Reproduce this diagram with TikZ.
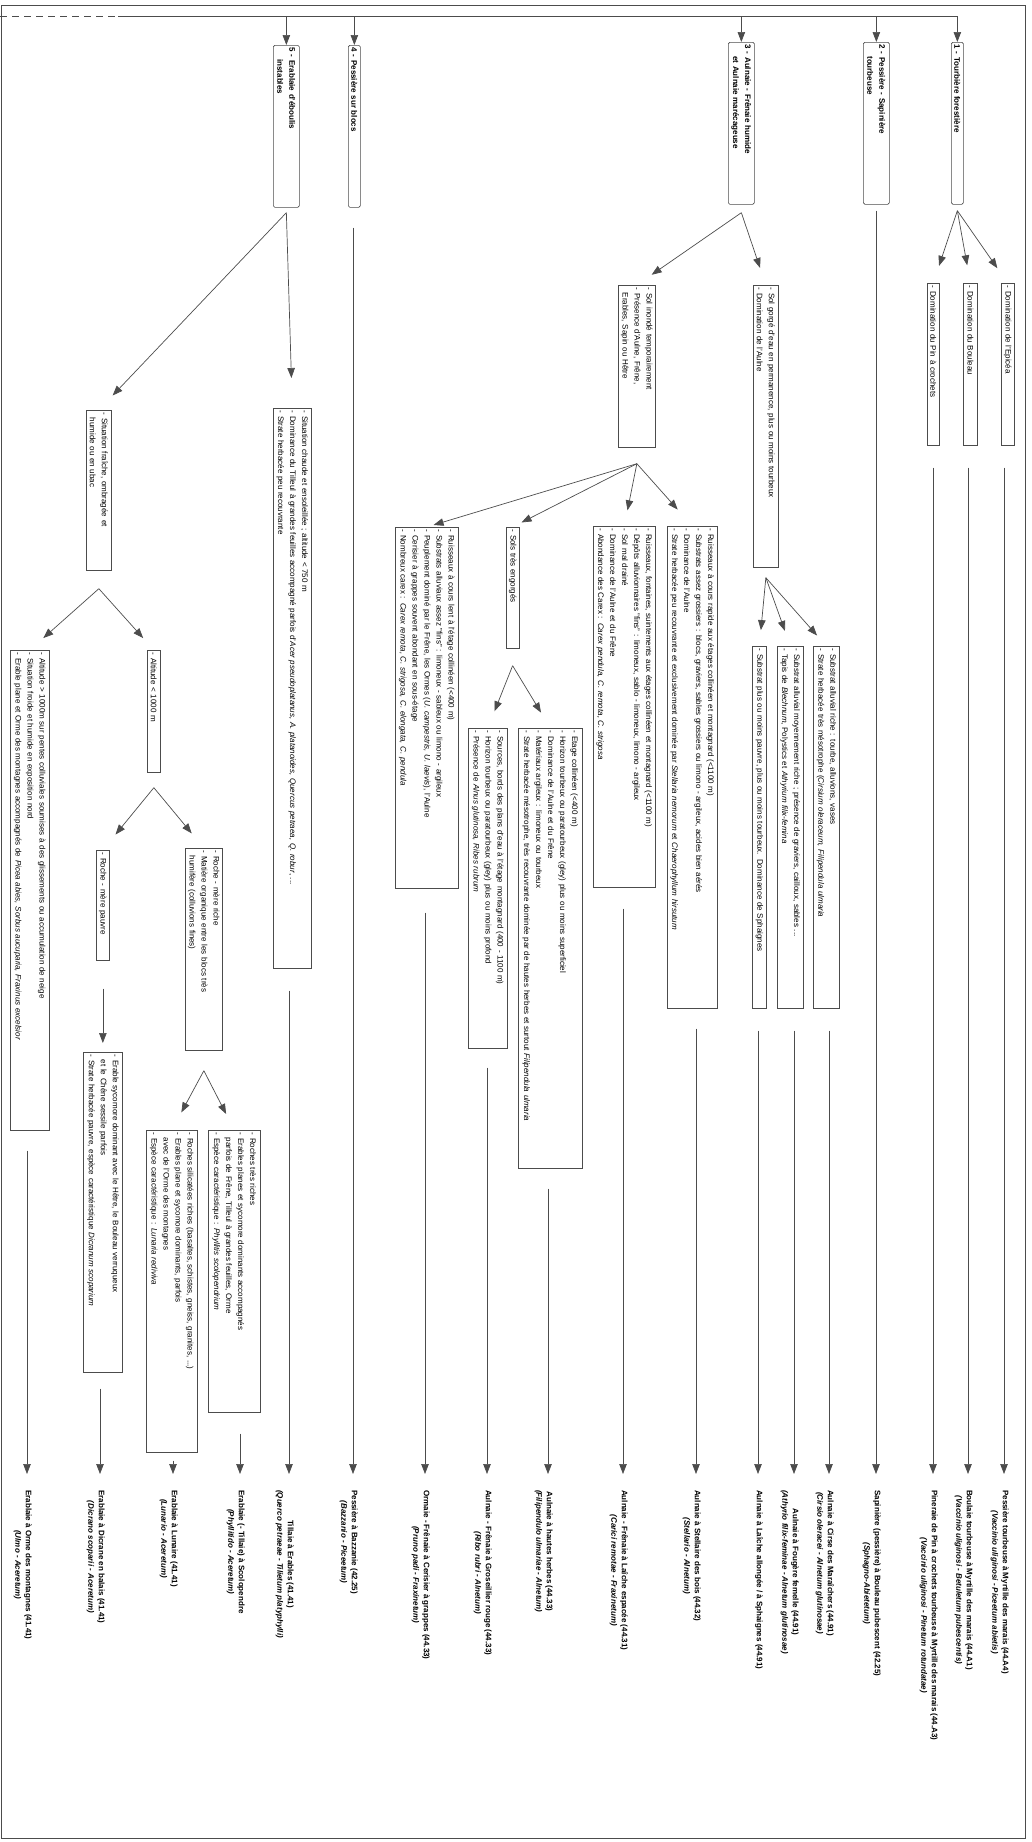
\documentclass[tikz,border=0pt]{standalone}
\usepackage{fontspec}
\setmainfont{Liberation Sans}
\usetikzlibrary{arrows.meta, calc}
\definecolor{trait}{gray}{0.3}

\begin{document}
\begin{tikzpicture}[x=1pt, y=-1pt,
  boite/.style={draw=trait, line width=0.7pt, rotate=-90, anchor=south west, align=left, inner sep=2.5pt, font=\fontsize{8}{12}\selectfont},
  titre/.style={boite, rounded corners=1.5pt, font=\bfseries\fontsize{8}{12}\selectfont},
  etiquette/.style={rotate=-90, anchor=north west, align=center, inner sep=0pt, font=\bfseries\fontsize{8}{10.5}\selectfont},
  fleche/.style={draw=trait, line width=0.7pt, -{Triangle[length=10pt,width=7.5pt]}, shorten >=18pt},
  filet/.style={draw=trait, line width=0.7pt}]

\useasboundingbox (0,0) rectangle (1032,1842);
\draw[filet] (1,5) rectangle (1025,1838);

\node[titre, text width=157pt, minimum height=26pt] (b5) at (273,45) {5 - Erablaie d'éboulis\\\hspace*{11.5pt}instables};
\node[titre, text width=157pt, minimum height=12pt] (b4) at (348,45) {4 - Pessière sur blocs};
\node[titre, text width=157pt, minimum height=26pt] (b3) at (728,42) {3 - Aulnaie - Frênaie humide\\\hspace*{11.5pt}et Aulnaie marécageuse};
\node[titre, text width=157pt, minimum height=26pt] (b2) at (863,42) {2 - Pessière - Sapinière\\\hspace*{11.5pt}tourbeuse};
\node[titre, text width=157pt, minimum height=12pt] (b1) at (951,42) {1 - Tourbière forestière};

\coordinate (racine) at (0,16);
\draw[filet, dash pattern=on 7pt off 5pt] (racine) -- (118,16);
\draw[filet] (118,16) -- (b1.west |- racine);
\draw[fleche, shorten >=0pt] (b5.west |- racine) -- (b5.west);
\draw[fleche, shorten >=0pt] (b4.west |- racine) -- (b4.west);
\draw[fleche, shorten >=0pt] (b3.west |- racine) -- (b3.west);
\draw[fleche, shorten >=0pt] (b2.west |- racine) -- (b2.west);
\draw[fleche, shorten >=0pt] (b1.west |- racine) -- (b1.west);

\node[boite, text width=157pt, minimum height=12pt] (pc) at (927,283) {- Domination du Pin à crochets};
\node[boite, text width=157pt, minimum height=14pt] (bo) at (963,283) {- Domination du Bouleau};
\node[boite, text width=157pt, minimum height=12pt] (ep) at (1001,283) {- Domination de l'Epicéa};
\coordinate (o1) at ($(b1.east)+(0,6)$);
\draw[fleche] (o1) -- (pc.west);
\draw[fleche] (o1) -- (bo.west);
\draw[fleche] (o1) -- (ep.west);

\node[boite, text width=157pt, minimum height=37pt] (sA) at (618,285) {- Sol inondé temporairement\\- Présence d'Aulne, Frêne,\\\hspace*{5pt}Erables, Sapin ou Hêtre};
\node[boite, text width=277pt, minimum height=25pt] (sB) at (753,285) {- Sol gorgé d'eau en permanence, plus ou moins tourbeux\\- Domination de l'Aulne};
\coordinate (o3) at ($(b3.east)+(0,8)$);
\draw[fleche] (o3) -- (sA.west);
\draw[fleche] (o3) -- (sB.west);

\node[boite, text width=357pt, minimum height=14pt] (B1) at (752,646) {- Substrat plus ou moins pauvre, plus ou moins tourbeux. Dominance de Sphaignes};
\node[boite, text width=357pt, minimum height=26pt] (B2) at (777,646) {- Substrat alluvial moyennement riche ; présence de graviers, cailloux, sables ...\\- Tapis de \textit{Blechnum}, Polystics et \textit{Athyrium filix-femina}};
\node[boite, text width=357pt, minimum height=26pt] (B3) at (813,646) {- Substrat alluvial riche : tourbe, alluvions, vases\\- Strate herbacée très mésotrophe (\textit{Cirsium oleraceum, Filipendula ulmaria}};
\coordinate (oB) at ($(sB.east)+(0,10)$);
\draw[fleche, shorten >=16pt] (oB) -- (B1.west);
\draw[fleche, shorten >=16pt] (oB) -- (B2.west);
\draw[fleche, shorten >=14pt] (oB) -- (B3.west);

\node[boite, text width=477pt, minimum height=50pt] (C1) at (667,526) {- Ruisseaux à cours rapide aux étages collinéen et montagnard (<1100 m)\\- Substrats assez grossiers : blocs, graviers, sables grossiers ou limono - argileux, acides bien aérés\\- Dominance de l'Aulne\\- Strate herbacée peu recouvrante et exclusivement dominée par \textit{Stellaria nemorum} et \textit{Chaerophyllum hirsutum}};
\node[boite, text width=356pt, minimum height=62pt] (C2) at (593,526) {- Ruisseaux, fontaines, suintements aux étages collinéen et montagnard (<1100 m)\\- Dépôts alluvionnaires "fins" : limoneux, sablo - limoneux, limono - argileux\\- Sol mal drainé\\- Dominance de l'Aulne et du Frêne\\- Abondance des Carex : \textit{Carex pendula, C. remota, C. strigosa}};
\node[boite, text width=116pt, minimum height=12pt] (C3) at (506,527) {- Sols très engorgés};
\node[boite, text width=356pt, minimum height=63pt] (C4) at (395,527) {- Ruisseaux à cours lent à l'étage collinéen (<400 m)\\- Substrats alluviaux assez "fins" : limoneux - sableux ou limono - argileux\\- Peuplement dominé par le Frêne, les Ormes (\textit{U. campestris, U. laevis}), l'Aulne\\- Cerisier à grappes souvent abondant en sous-étage\\- Nombreux carex : \textit{Carex remota, C. strigosa, C. elongata, C. pendula}};
\coordinate (oA) at ($(sA.east)+(0,16)$);
\draw[fleche, shorten >=22pt] (oA) -- (C1.west);
\draw[fleche, shorten >=16pt] (oA) -- (C2.west);
\draw[fleche, shorten >=10pt] (oA) -- (C3.west);
\draw[fleche, shorten >=7pt] (oA) -- (C4.west);

\node[boite, text width=315pt, minimum height=39pt] (C3a) at (468,728) {- Sources, bords des plans d'eau à l'étage montagnard (400 - 1100 m)\\- Horizon tourbeux ou paratourbeux (gley) plus ou moins profond\\- Présence de \textit{Alnus glutinosa, Ribes rubrum}};
\node[boite, text width=435pt, minimum height=64pt] (C3b) at (518,728) {- Etage collinéen (<400 m)\\- Horizon tourbeux ou paratourbeux (gley) plus ou moins superficiel\\- Dominance de l'Aulne et du Frêne\\- Matériaux argileux : limoneux ou tourbeux\\- Strate herbacée mésotrophe, très recouvrante dominée par de hautes herbes et surtout \textit{Filipendula ulmaria}};
\coordinate (oC) at ($(C3.east)+(0,17)$);
\draw[fleche] (oC) -- (C3a.west);
\draw[fleche] (oC) -- (C3b.west);

\node[boite, text width=155pt, minimum height=25pt] (D1) at (86,410) {- Situation fraîche, ombragée et\\\hspace*{5pt}humide ou en ubac};
\node[boite, text width=555pt, minimum height=38pt] (D2) at (273,408) {- Situation chaude et ensoleillée ; altitude < 750 m\\- Dominance du Tilleul à grandes feuilles accompagné parfois d'\textit{Acer pseudoplatanus, A. platanoides, Quercus petraea, Q. robur}, ...\\- Strate herbacée peu recouvrante};
\coordinate (o5) at ($(b5.east)+(0,5)$);
\draw[fleche, shorten >=20pt] (o5) -- (D1.west);
\draw[fleche, shorten >=30pt] (o5) -- (D2.west);

\node[boite, text width=475pt, minimum height=39pt] (E1) at (10,650) {- Altitude > 1000m sur pentes colluviales soumises à des glissements ou accumulation de neige\\- Situation froide et humide en exposition nord\\- Erable plane et Orme des montagnes accompagnés de \textit{Picea abies, Sorbus aucuparia, Fraxinus excelsior}};
\node[boite, text width=117pt, minimum height=13pt] (E2) at (147,650) {- Altitude < 1000 m};
\coordinate (oD) at ($(D1.east)+(0,18)$);
\draw[fleche] (oD) -- (E1.west);
\draw[fleche, shorten >=16pt] (oD) -- (E2.west);

\node[boite, text width=105pt, minimum height=13pt] (F1) at (96,850) {- Roche - mère pauvre};
\node[boite, text width=197pt, minimum height=37pt] (F2) at (185,848) {- Roche - mère riche\\- Matière organique entre les blocs très\\\hspace*{5pt}humifère (colluvions fines)};
\coordinate (oE) at ($(E2.east)+(0,15)$);
\draw[fleche, shorten >=20pt] (oE) -- (F1.west);
\draw[fleche, shorten >=19pt] (oE) -- (F2.west);

\node[boite, text width=315pt, minimum height=39pt] (G1) at (83,1052) {- Erable sycomore dominant avec le Hêtre, le Bouleau verruqueux\\\hspace*{5pt}et le Chêne sessile parfois\\- Strate herbacée pauvre, espèce caractéristique \textit{Dicranum scoparium}};
\draw[fleche, shorten >=9pt] ($(F1.east)+(0,28)$) -- (G1.west);

\node[boite, text width=317pt, minimum height=51pt] (H1) at (146,1130) {- Roches silicatées riches (basaltes, schistes, gneiss, granites, ...)\\- Erables plane et sycomore dominants, parfois\\\hspace*{5pt}avec de l'Orme des montagnes\\- Espèce caractéristique : \textit{Lunaria rediviva}};
\node[boite, text width=277pt, minimum height=52pt] (H2) at (208,1130) {- Roches très riches\\- Erables planes et sycomore dominants accompagnés\\\hspace*{5pt}parfois de Frêne, Tilleul à grandes feuilles, Orme\\- Espèce caractéristique : \textit{Phyllitis scolopendrium}};
\coordinate (oF) at ($(F2.east)+(0,20)$);
\draw[fleche, shorten >=20pt] (oF) -- (H1.west);
\draw[fleche, shorten >=18pt] (oF) -- (H2.west);

\coordinate (t1) at (27,1474);
\coordinate (t2) at (100,1474);
\coordinate (t3) at (173,1474);
\coordinate (t4) at (240,1474);
\coordinate (t5) at (289,1474);
\coordinate (t6) at (353,1474);
\coordinate (t7) at (425,1474);
\coordinate (t8) at (487,1474);
\coordinate (t9) at (548,1474);
\coordinate (t10) at (623,1474);
\coordinate (t11) at (696,1474);
\coordinate (t12) at (758,1474);
\coordinate (t13) at (794,1474);
\coordinate (t14) at (829,1474);
\coordinate (t15) at (876,1474);
\coordinate (t16) at (933,1474);
\coordinate (t17) at (968,1474);
\coordinate (t18) at (1004,1474);

\draw[fleche, shorten >=0pt] ($(t1 |- E1.east)+(0,20)$) -- (t1);
\draw[fleche, shorten >=0pt] ($(t2 |- G1.east)+(0,16)$) -- (t2);
\draw[fleche, shorten >=0pt] ($(t3 |- H1.east)+(0,8)$) -- (t3);
\draw[fleche, shorten >=0pt] ($(t4 |- H2.east)+(0,21)$) -- (t4);
\draw[fleche, shorten >=0pt] ($(t5 |- D2.east)+(0,22)$) -- (t5);
\draw[fleche, shorten >=0pt] ($(t6 |- b4.east)+(0,20)$) -- (t6);
\draw[fleche, shorten >=0pt] ($(t7 |- C4.east)+(0,24)$) -- (t7);
\draw[fleche, shorten >=0pt] ($(t8 |- C3a.east)+(0,19)$) -- (t8);
\draw[fleche, shorten >=0pt] ($(t9 |- C3b.east)+(0,20)$) -- (t9);
\draw[fleche, shorten >=0pt] ($(t10 |- C2.east)+(0,21)$) -- (t10);
\draw[fleche, shorten >=0pt] ($(t11 |- C1.east)+(0,20)$) -- (t11);
\draw[fleche, shorten >=0pt] ($(t12 |- B1.east)+(0,22)$) -- (t12);
\draw[fleche, shorten >=0pt] ($(t13 |- B2.east)+(0,22)$) -- (t13);
\draw[fleche, shorten >=0pt] ($(t14 |- B3.east)+(0,22)$) -- (t14);
\draw[fleche, shorten >=0pt] ($(t15 |- b2.east)+(0,6)$) -- (t15);
\draw[fleche, shorten >=0pt] ($(t16 |- pc.east)+(0,22)$) -- (t16);
\draw[fleche, shorten >=0pt] ($(t17 |- bo.east)+(0,22)$) -- (t17);
\draw[fleche, shorten >=0pt] ($(t18 |- ep.east)+(0,22)$) -- (t18);

\node[etiquette] (e1) at ([xshift=5pt, yshift=-16pt]t1) {Erablaie à Orme des montagnes (41.41)\\\textit{(Ulmo - Aceretum)}};
\node[etiquette] (e2) at ([xshift=5pt, yshift=-16pt]t2) {Erablaie à Dicrane en balais (41.41)\\\textit{(Dicrano scoparii - Aceretum)}};
\node[etiquette] (e3) at ([xshift=5pt, yshift=-16pt]t3) {Erablaie à Lunaire (41.41)\\\textit{(Lunario - Aceretum)}};
\node[etiquette] (e4) at ([xshift=5pt, yshift=-16pt]t4) {Erablaie (- Tillaie) à Scolopendre\\\textit{(Phyllitido - Aceretum)}};
\node[etiquette] (e5) at ([xshift=5pt, yshift=-16pt]t5) {Tillaie à Erables (41.41)\\\textit{(Querco petraeae - Tilietum platyphylli)}};
\node[etiquette] (e6) at ([xshift=5pt, yshift=-16pt]t6) {Pessière à Bazzanie (42.25)\\\textit{(Bazzanio - Piceetum)}};
\node[etiquette] (e7) at ([xshift=5pt, yshift=-16pt]t7) {Ormaie - Frênaie à Cerisier à grappes (44.33)\\\textit{(Pruno padi - Fraxinetum)}};
\node[etiquette] (e8) at ([xshift=5pt, yshift=-16pt]t8) {Aulnaie - Frênaie à Groseillier rouge (44.33)\\\textit{(Ribo rubri - Alnetum)}};
\node[etiquette] (e9) at ([xshift=5pt, yshift=-16pt]t9) {Aulnaie à hautes herbes (44.33)\\\textit{(Filipendulo ulmariae - Alnetum)}};
\node[etiquette] (e10) at ([xshift=5pt, yshift=-16pt]t10) {Aulnaie - Frênaie à Laîche espacée (44.31)\\\textit{(Carici remotae - Fraxinetum)}};
\node[etiquette] (e11) at ([xshift=5pt, yshift=-16pt]t11) {Aulnaie à Stellaire des bois (44.32)\\\textit{(Stellario - Alnetum)}};
\node[etiquette] (e12) at ([xshift=5pt, yshift=-16pt]t12) {Aulnaie à Laîche allongée / à Sphaignes (44.91)};
\node[etiquette] (e13) at ([xshift=5pt, yshift=-16pt]t13) {Aulnaie à Fougère femelle (44.91)\\\textit{(Athyrio filix-feminae - Alnetum glutinosae)}};
\node[etiquette] (e14) at ([xshift=5pt, yshift=-16pt]t14) {Aulnaie à Cirse des Maraîchers (44.91)\\\textit{(Cirsio oleracei - Alnetum glutinosae)}};
\node[etiquette] (e15) at ([xshift=5pt, yshift=-16pt]t15) {Sapinière (pessière) à Bouleau pubescent (42.25)\\\textit{(Sphagno-Abietetum)}};
\node[etiquette] (e16) at ([xshift=5pt, yshift=-16pt]t16) {Pineraie de Pin à crochets tourbeuse à Myrtille des marais (44.A3)\\\textit{(Vaccinio uliginosi - Pinetum rotundatae)}};
\node[etiquette] (e17) at ([xshift=5pt, yshift=-16pt]t17) {Boulaie tourbeuse à Myrtille des marais (44.A1)\\\textit{(Vaccinio uliginosi - Betuletum pubescentis)}};
\node[etiquette] (e18) at ([xshift=5pt, yshift=-16pt]t18) {Pessière tourbeuse à Myrtille des marais (44.A4)\\\textit{(Vaccinio uliginosi - Piceetum abietis)}};

\end{tikzpicture}
\end{document}
